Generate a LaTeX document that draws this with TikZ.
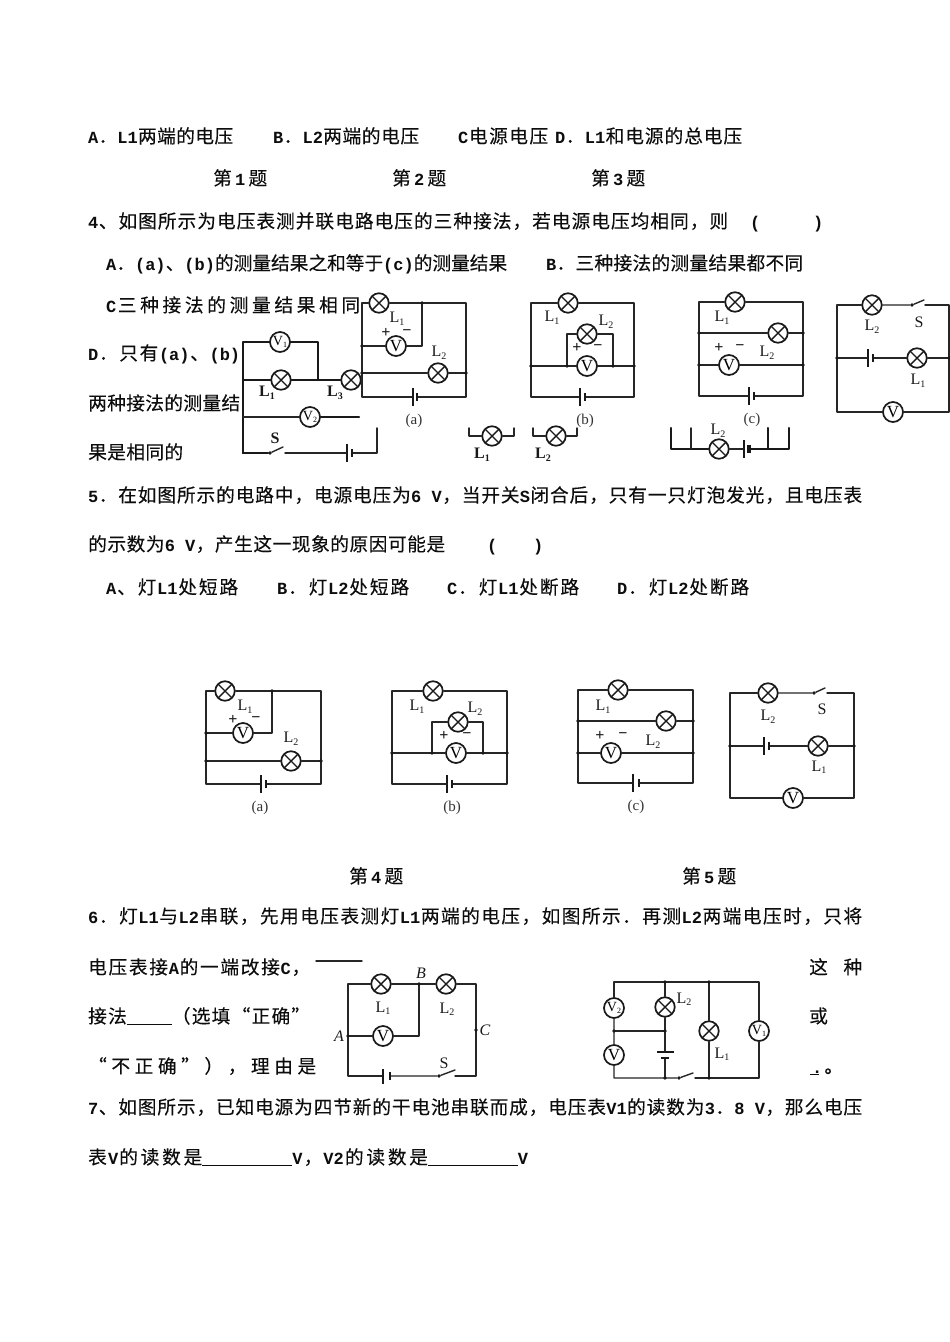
\documentclass[tikz,border=0pt]{standalone}
\usepackage{fontspec}
\setmainfont{Liberation Mono}
\newfontfamily\latinf{Liberation Mono Bold}
\newfontfamily\cjkf{Noto Sans CJK SC}[Scale=1.1,FakeBold=0.15]
\newfontfamily\serf{Liberation Serif}
\newXeTeXintercharclass\cjkcls
\newcount\cc
\cc="4E00 \loop \XeTeXcharclass\cc=\cjkcls \advance\cc 1 \ifnum\cc<"A000 \repeat
\cc="3000 \loop \XeTeXcharclass\cc=\cjkcls \advance\cc 1 \ifnum\cc<"3040 \repeat
\cc="FF00 \loop \XeTeXcharclass\cc=\cjkcls \advance\cc 1 \ifnum\cc<"FFF0 \repeat
\XeTeXcharclass"201C=\cjkcls
\XeTeXcharclass"201D=\cjkcls
\XeTeXinterchartokenstate=1
\XeTeXinterchartoks 0 \cjkcls={\hskip 0pt plus .4fil minus .4fil\relax\cjkf}
\XeTeXinterchartoks 4095 \cjkcls={\cjkf}
\XeTeXinterchartoks \cjkcls 0 ={\latinf\hskip 0pt plus .4fil minus .4fil\relax}
\XeTeXinterchartoks \cjkcls 4095 ={\latinf}
\XeTeXinterchartoks \cjkcls \cjkcls={\hskip 0pt plus 1fil minus 1fil\relax}
\newcommand\tl[5]{\node[txt] (#1) at (#2,#3) {\hbox to #4pt{#5}};}
\newcommand\Ls[1]{L\raisebox{-2.5pt}{\fontsize{10}{10}\selectfont #1}}
\newcommand\Vs[1]{V\raisebox{-2pt}{\fontsize{8}{8}\selectfont #1}}
\tikzset{
  x=1pt,y=-1pt,
  txt/.style={anchor=base west,inner sep=0pt,font=\latinf\fontsize{17}{19}\selectfont,text=black!95},
  wire/.style={line width=1.4pt,draw=black!85,line cap=round,line join=round},
  heavy/.style={line width=2.1pt,draw=black!90,line cap=round,line join=round},
  lamp/.style={circle,draw=black!90,line width=1.7pt,fill=white,minimum size=19.5pt,inner sep=0pt,
    path picture={\draw[line width=1.4pt,black!90] (path picture bounding box.north west) -- (path picture bounding box.south east)
      (path picture bounding box.north east) -- (path picture bounding box.south west);}},
  meter/.style={circle,draw=black!90,line width=1.7pt,fill=white,minimum size=20pt,inner sep=0pt,font=\serf\fontsize{17}{17}\selectfont},
  meters/.style={meter,font=\serf\fontsize{14}{14}\selectfont},
  lbl/.style={inner sep=0pt,font=\serf\fontsize{16}{16}\selectfont,text=black!90},
  blbl/.style={inner sep=0pt,font=\serf\bfseries\fontsize{16}{16}\selectfont,text=black!90},
  ilbl/.style={inner sep=0pt,font=\serf\itshape\fontsize{16}{16}\selectfont,text=black!90},
  figcap/.style={inner sep=0pt,font=\serf\fontsize{15}{15}\selectfont,text=black!80},
  sgn/.style={inner sep=0pt,font=\serf\bfseries\fontsize{16}{16}\selectfont,text=black!90},
  plate/.style={rectangle,fill=black!90,inner sep=0pt,minimum width=1.5pt,minimum height=18pt},
  stub/.style={rectangle,fill=black!90,inner sep=0pt,minimum width=2.4pt,minimum height=8pt},
  dot/.style={circle,fill=black!90,inner sep=0pt,minimum size=3.6pt},
}
\begin{document}
\begin{tikzpicture}
\useasboundingbox (0,0) rectangle (950,1342);
\fill[white] (0,0) rectangle (950,1342);

% ---------- text ----------
\tl{t1}{88}{143}{145}{A．L1两端的电压}
\tl{t2}{273}{143}{146}{B．L2两端的电压}
\tl{t3}{458}{143}{90}{C电源电压}
\tl{t4}{555}{143}{187}{D．L1和电源的总电压}
\tl{t5}{213}{185}{54}{第\hfil 1\hfil 题}
\tl{t6}{392}{185}{54}{第\hfil 2\hfil 题}
\tl{t7}{591}{185}{54}{第\hfil 3\hfil 题}
\tl{t8}{88}{228}{640}{4、如图所示为电压表测并联电路电压的三种接法，若电源电压均相同，则}
\tl{t9}{750}{228}{10}{(}
\tl{t10}{813}{228}{10}{)}
\tl{t11}{106}{270}{401}{A．(a)、(b)的测量结果之和等于(c)的测量结果}
\tl{t12}{546}{270}{257}{B．三种接法的测量结果都不同}
\tl{t13}{106}{312}{254}{C三种接法的测量结果相同}
\tl{t14}{88}{360}{152}{D．只有(a)、(b)}
\tl{t15}{88}{410}{152}{两种接法的测量结}
\tl{t16}{88}{459}{95}{果是相同的}
\tl{t17}{88}{502}{774}{5．在如图所示的电路中，电源电压为6 V，当开关S闭合后，只有一只灯泡发光，且电压表}
\tl{t18}{88}{551}{357}{的示数为6 V，产生这一现象的原因可能是}
\tl{t19}{487}{551}{10}{(}
\tl{t20}{533}{551}{10}{)}
\tl{t21}{106}{594}{132}{A、灯L1处短路}
\tl{t22}{277}{594}{132}{B．灯L2处短路}
\tl{t23}{447}{594}{132}{C．灯L1处断路}
\tl{t24}{617}{594}{132}{D．灯L2处断路}
\tl{t25}{349}{883}{54}{第\hfil 4\hfil 题}
\tl{t26}{682}{883}{54}{第\hfil 5\hfil 题}
\tl{t27}{88}{923}{774}{6．灯L1与L2串联，先用电压表测灯L1两端的电压，如图所示．再测L2两端电压时，只将}
\tl{t28}{88}{974}{222}{电压表接A的一端改接C，}
\tl{t29}{809}{974}{53}{这\hfil 种}
\tl{t30}{88}{1023}{222}{接法\rule[-2pt]{45pt}{1pt}（选填“正确”}
\tl{t31}{809}{1023}{19}{或}
\tl{t32}{88}{1073}{228}{“不正确”），理由是}
\tl{t33}{810}{1073}{26}{\rule[-2pt]{9pt}{1pt}\kern-7pt.\kern2pt 。\hfil}
\tl{t34}{88}{1114}{774}{7、如图所示，已知电源为四节新的干电池串联而成，电压表V1的读数为3．8 V，那么电压}
\tl{t35}{88}{1164}{440}{表V的读数是\rule[-2pt]{90pt}{1pt}V，V2的读数是\rule[-2pt]{90pt}{1pt}V}
\coordinate (ulA) at (316,961);
\coordinate (ulB) at (362,961);
\draw[wire] (ulA) -- (ulB);

% ---------- series circuit, top left ----------
\coordinate (pa) at (243,342);
\coordinate (pb) at (318,342);
\coordinate (pc) at (318,380);
\coordinate (pd) at (243,380);
\coordinate (pe) at (243,417);
\coordinate (pf) at (359,417);
\coordinate (pg) at (243,453);
\coordinate (ph) at (377,453);
\coordinate (pi) at (377,428);
\coordinate (pj) at (283,447);
\coordinate (pk) at (285,453);
\node[meters] (pV1) at (280,342) {\Vs{1}};
\node[lamp] (pL1) at (281,380) {};
\node[lamp] (pL3) at (351,380) {};
\node[meters] (pV2) at (310,417) {\Vs{2}};
\node[dot] (pS) at (270,453) {};
\node[plate] (pB1) at (347,453) {};
\node[stub] (pB2) at (352,453) {};
\draw[heavy] (pg) -- (pa) -- (pV1);
\draw[heavy] (pV1) -- (pb) -- (pc);
\draw[heavy] (pd) -- (pL1);
\draw[heavy] (pL1) -- (pc) -- (pL3);
\draw[wire] (pe) -- (pV2);
\draw[heavy] (pV2) -- (pf);
\draw[heavy] (pg) -- (pS);
\draw[wire] (pS) -- (pj);
\draw[wire] (pk) -- (pB1);
\draw[wire] (pB2) -- (ph) -- (pi);
\node[blbl] (pl1) at (267,393) {\Ls{1}};
\node[blbl] (pl3) at (335,393) {\Ls{3}};
\node[blbl] (pls) at (275,438) {S};

% ---------- (a) top ----------
\coordinate (aTL) at (362,303);
\coordinate (aTR) at (466,303);
\coordinate (aBR) at (466,397);
\coordinate (aBL) at (362,397);
\coordinate (aJ) at (422,303);
\coordinate (aK) at (422,346);
\coordinate (aM) at (362,346);
\coordinate (aN) at (362,373);
\coordinate (aP) at (466,373);
\node[lamp] (aL1) at (379,303) {};
\node[meter] (aV) at (396,346) {V};
\node[lamp] (aL2) at (438,373) {};
\node[plate] (aB1) at (413,397) {};
\node[stub] (aB2) at (417,397) {};
\draw[wire] (aL1) -- (aTL) -- (aBL) -- (aB1);
\draw[wire] (aL1) -- (aTR) -- (aBR) -- (aB2);
\draw[wire] (aJ) -- (aK) -- (aV) -- (aM);
\draw[wire] (aN) -- (aL2) -- (aP);
\node[dot] (aD1) at (aJ) {};
\node[dot] (aD2) at (aM) {};
\node[dot] (aD3) at (aN) {};
\node[dot] (aD4) at (aP) {};
\node[lbl] (al1) at (397,319) {\Ls{1}};
\node[sgn] (apl) at (386,333) {+};
\node[sgn] (amn) at (407,333) {−};
\node[lbl] (al2) at (439,353) {\Ls{2}};
\node[figcap] (acap) at (414,421) {(a)};

% ---------- (b) top ----------
\coordinate (bTL) at (531,303);
\coordinate (bTR) at (634,303);
\coordinate (bBR) at (634,397);
\coordinate (bBL) at (531,397);
\coordinate (bM) at (531,366);
\coordinate (bN) at (634,366);
\coordinate (bJ) at (567,366);
\coordinate (bK) at (613,366);
\coordinate (bU) at (567,334);
\coordinate (bW) at (613,334);
\node[lamp] (bL1) at (568,303) {};
\node[lamp] (bL2) at (587,334) {};
\node[meter] (bV) at (587,366) {V};
\node[plate] (bB1) at (580,397) {};
\node[stub] (bB2) at (585,397) {};
\draw[wire] (bL1) -- (bTL) -- (bBL) -- (bB1);
\draw[wire] (bL1) -- (bTR) -- (bBR) -- (bB2);
\draw[wire] (bM) -- (bV) -- (bN);
\draw[wire] (bJ) -- (bU) -- (bL2) -- (bW) -- (bK);
\node[dot] (bD1) at (bM) {};
\node[dot] (bD2) at (bN) {};
\node[dot] (bD3) at (bJ) {};
\node[dot] (bD4) at (bK) {};
\node[lbl] (bl1) at (552,318) {\Ls{1}};
\node[lbl] (bl2) at (606,322) {\Ls{2}};
\node[sgn] (bpl) at (577,348) {+};
\node[sgn] (bmn) at (598,348) {−};
\node[figcap] (bcap) at (585,421) {(b)};

% ---------- (c) top ----------
\coordinate (cTL) at (699,302);
\coordinate (cTR) at (803,302);
\coordinate (cBR) at (803,396);
\coordinate (cBL) at (699,396);
\coordinate (cA) at (699,333);
\coordinate (cB) at (803,333);
\coordinate (cC) at (699,365);
\coordinate (cD) at (803,365);
\node[lamp] (cL1) at (735,302) {};
\node[lamp] (cL2) at (778,333) {};
\node[meter] (cV) at (729,365) {V};
\node[plate] (cB1) at (749,396) {};
\node[stub] (cB2) at (754,396) {};
\draw[wire] (cL1) -- (cTL) -- (cBL) -- (cB1);
\draw[wire] (cL1) -- (cTR) -- (cBR) -- (cB2);
\draw[wire] (cA) -- (cL2) -- (cB);
\draw[wire] (cC) -- (cV) -- (cD);
\node[dot] (cD1) at (cA) {};
\node[dot] (cD2) at (cB) {};
\node[dot] (cD3) at (cC) {};
\node[dot] (cD4) at (cD) {};
\node[lbl] (cl1) at (722,318) {\Ls{1}};
\node[sgn] (cpl) at (719,348) {+};
\node[sgn] (cmn) at (740,348) {−};
\node[lbl] (cl2) at (767,353) {\Ls{2}};
\node[figcap] (ccap) at (752,420) {(c)};

% ---------- top right circuit ----------
\coordinate (dTL) at (837,305);
\coordinate (dTR) at (949,305);
\coordinate (dBR) at (949,412);
\coordinate (dBL) at (837,412);
\coordinate (dM) at (837,358);
\coordinate (dN) at (949,358);
\coordinate (dJ) at (924,300);
\coordinate (dK) at (925,305);
\node[lamp] (dL2) at (872,305) {};
\node[dot] (dS) at (912,305) {};
\node[lamp] (dL1) at (917,358) {};
\node[meter] (dV) at (893,412) {V};
\node[plate] (dB1) at (868,358) {};
\node[stub] (dB2) at (873,358) {};
\draw[wire] (dL2) -- (dTL) -- (dBL) -- (dV) -- (dBR) -- (dTR) -- (dK);
\draw[wire] (dL2) -- (dS) -- (dJ);
\draw[wire] (dM) -- (dB1);
\draw[wire] (dB2) -- (dL1) -- (dN);
\node[dot] (dD1) at (dM) {};
\node[dot] (dD2) at (dN) {};
\node[lbl] (dl2) at (872,327) {\Ls{2}};
\node[lbl] (dls) at (919,322) {S};
\node[lbl] (dl1) at (918,381) {\Ls{1}};

% ---------- fragments between the top figures ----------
\coordinate (f1a) at (469,428);
\coordinate (f1b) at (469,436);
\coordinate (f1c) at (514,436);
\coordinate (f1d) at (514,428);
\node[lamp] (f1L) at (492,436) {};
\draw[wire] (f1a) -- (f1b) -- (f1L) -- (f1c) -- (f1d);
\node[blbl] (f1l) at (482,455) {\Ls{1}};
\coordinate (f2a) at (533,428);
\coordinate (f2b) at (533,436);
\coordinate (f2c) at (577,436);
\coordinate (f2d) at (577,428);
\node[lamp] (f2L) at (556,436) {};
\draw[wire] (f2a) -- (f2b) -- (f2L) -- (f2c) -- (f2d);
\node[blbl] (f2l) at (543,455) {\Ls{2}};
\coordinate (f3a) at (671,428);
\coordinate (f3b) at (671,449);
\coordinate (f3c) at (691,428);
\coordinate (f3d) at (691,449);
\coordinate (f3e) at (768,428);
\coordinate (f3f) at (768,449);
\coordinate (f3g) at (789,449);
\coordinate (f3h) at (789,428);
\node[lamp] (f3L) at (719,449) {};
\node[plate] (f3B1) at (744,449) {};
\node[stub,minimum width=3.5pt] (f3B2) at (749,449) {};
\draw[heavy] (f3a) -- (f3b) -- (f3L);
\draw[wire] (f3c) -- (f3d);
\draw[wire] (f3L) -- (f3B1);
\draw[heavy] (f3B2) -- (f3g) -- (f3h);
\draw[heavy] (f3e) -- (f3f);
\node[lbl] (f3l) at (718,431) {\Ls{2}};

% ---------- lower (a) ----------
\coordinate (gTL) at (206,691);
\coordinate (gTR) at (321,691);
\coordinate (gBR) at (321,784);
\coordinate (gBL) at (206,784);
\coordinate (gJ) at (272,691);
\coordinate (gK) at (272,733);
\coordinate (gM) at (206,733);
\coordinate (gN) at (206,761);
\coordinate (gP) at (321,761);
\node[lamp] (gL1) at (225,691) {};
\node[meter] (gV) at (243,733) {V};
\node[lamp] (gL2) at (291,761) {};
\node[plate] (gB1) at (261,784) {};
\node[stub] (gB2) at (266,784) {};
\draw[wire] (gL1) -- (gTL) -- (gBL) -- (gB1);
\draw[wire] (gL1) -- (gTR) -- (gBR) -- (gB2);
\draw[wire] (gJ) -- (gK) -- (gV) -- (gM);
\draw[wire] (gN) -- (gL2) -- (gP);
\node[dot] (gD1) at (gJ) {};
\node[dot] (gD2) at (gM) {};
\node[dot] (gD3) at (gN) {};
\node[dot] (gD4) at (gP) {};
\node[lbl] (gl1) at (245,707) {\Ls{1}};
\node[sgn] (gpl) at (233,720) {+};
\node[sgn] (gmn) at (256,720) {−};
\node[lbl] (gl2) at (291,739) {\Ls{2}};
\node[figcap] (gcap) at (260,808) {(a)};

% ---------- lower (b) ----------
\coordinate (hTL) at (392,691);
\coordinate (hTR) at (507,691);
\coordinate (hBR) at (507,784);
\coordinate (hBL) at (392,784);
\coordinate (hM) at (392,753);
\coordinate (hN) at (507,753);
\coordinate (hJ) at (432,753);
\coordinate (hK) at (483,753);
\coordinate (hU) at (432,722);
\coordinate (hW) at (483,722);
\node[lamp] (hL1) at (433,691) {};
\node[lamp] (hL2) at (458,722) {};
\node[meter] (hV) at (456,753) {V};
\node[plate] (hB1) at (447,784) {};
\node[stub] (hB2) at (452,784) {};
\draw[wire] (hL1) -- (hTL) -- (hBL) -- (hB1);
\draw[wire] (hL1) -- (hTR) -- (hBR) -- (hB2);
\draw[wire] (hM) -- (hV) -- (hN);
\draw[wire] (hJ) -- (hU) -- (hL2) -- (hW) -- (hK);
\node[dot] (hD1) at (hM) {};
\node[dot] (hD2) at (hN) {};
\node[dot] (hD3) at (hJ) {};
\node[dot] (hD4) at (hK) {};
\node[lbl] (hl1) at (417,707) {\Ls{1}};
\node[lbl] (hl2) at (475,709) {\Ls{2}};
\node[sgn] (hpl) at (444,736) {+};
\node[sgn] (hmn) at (467,736) {−};
\node[figcap] (hcap) at (452,808) {(b)};

% ---------- lower (c) ----------
\coordinate (iTL) at (578,690);
\coordinate (iTR) at (693,690);
\coordinate (iBR) at (693,783);
\coordinate (iBL) at (578,783);
\coordinate (iA) at (578,721);
\coordinate (iB) at (693,721);
\coordinate (iC) at (578,753);
\coordinate (iD) at (693,753);
\node[lamp] (iL1) at (618,690) {};
\node[lamp] (iL2) at (666,721) {};
\node[meter] (iV) at (611,753) {V};
\node[plate] (iB1) at (633,783) {};
\node[stub] (iB2) at (639,783) {};
\draw[wire] (iL1) -- (iTL) -- (iBL) -- (iB1);
\draw[wire] (iL1) -- (iTR) -- (iBR) -- (iB2);
\draw[wire] (iA) -- (iL2) -- (iB);
\draw[wire] (iC) -- (iV) -- (iD);
\node[dot] (iD1) at (iA) {};
\node[dot] (iD2) at (iB) {};
\node[dot] (iD3) at (iC) {};
\node[dot] (iD4) at (iD) {};
\node[lbl] (il1) at (603,707) {\Ls{1}};
\node[sgn] (ipl) at (600,736) {+};
\node[sgn] (imn) at (623,736) {−};
\node[lbl] (il2) at (653,742) {\Ls{2}};
\node[figcap] (icap) at (636,807) {(c)};

% ---------- lower right circuit ----------
\coordinate (jTL) at (730,693);
\coordinate (jTR) at (854,693);
\coordinate (jBR) at (854,798);
\coordinate (jBL) at (730,798);
\coordinate (jM) at (730,746);
\coordinate (jN) at (854,746);
\coordinate (jJ) at (825,688);
\coordinate (jK) at (827,693);
\node[lamp] (jL2) at (768,693) {};
\node[dot] (jS) at (814,693) {};
\node[lamp] (jL1) at (818,746) {};
\node[meter] (jV) at (793,798) {V};
\node[plate] (jB1) at (764,746) {};
\node[stub] (jB2) at (769,746) {};
\draw[wire] (jL2) -- (jTL) -- (jBL) -- (jV) -- (jBR) -- (jTR) -- (jK);
\draw[wire] (jL2) -- (jS) -- (jJ);
\draw[wire] (jM) -- (jB1);
\draw[wire] (jB2) -- (jL1) -- (jN);
\node[dot] (jD1) at (jM) {};
\node[dot] (jD2) at (jN) {};
\node[lbl] (jl2) at (768,717) {\Ls{2}};
\node[lbl] (jls) at (822,709) {S};
\node[lbl] (jl1) at (819,767) {\Ls{1}};

% ---------- question 6 circuit ----------
\coordinate (kTL) at (348,984);
\coordinate (kTR) at (476,984);
\coordinate (kBR) at (476,1076);
\coordinate (kBL) at (348,1076);
\coordinate (kJ) at (419,984);
\coordinate (kK) at (419,1036);
\coordinate (kA) at (348,1036);
\coordinate (kC) at (476,1030);
\coordinate (kE) at (455,1070);
\coordinate (kF) at (455,1076);
\node[lamp] (kL1) at (381,984) {};
\node[lamp] (kL2) at (446,984) {};
\node[meter] (kV) at (383,1036) {V};
\node[plate,minimum height=15pt] (kB1) at (383,1076) {};
\node[stub] (kB2) at (390,1076) {};
\node[dot] (kS) at (439,1076) {};
\draw[wire] (kL1) -- (kTL) -- (kBL) -- (kB1);
\draw[wire] (kL1) -- (kL2) -- (kTR) -- (kBR) -- (kF);
\draw[wire] (kB2) -- (kS) -- (kE);
\draw[wire] (kJ) -- (kK) -- (kV) -- (kA);
\node[dot] (kD1) at (kJ) {};
\node[dot] (kD2) at (kA) {};
\node[dot] (kD3) at (kC) {};
\node[ilbl] (klb) at (421,973) {B};
\node[ilbl] (kla) at (339,1036) {A};
\node[ilbl] (klc) at (485,1030) {C};
\node[lbl] (kl1) at (383,1008) {\Ls{1}};
\node[lbl] (kl2) at (447,1009) {\Ls{2}};
\node[lbl] (kls) at (444,1063) {S};

% ---------- question 7 circuit ----------
\coordinate (mTL) at (614,982);
\coordinate (mTR) at (759,982);
\coordinate (mBR) at (759,1078);
\coordinate (mBL) at (614,1078);
\coordinate (mA) at (665,982);
\coordinate (mB) at (709,982);
\coordinate (mC) at (614,1031);
\coordinate (mD) at (665,1031);
\coordinate (mE) at (665,1078);
\coordinate (mF) at (709,1078);
\coordinate (mG) at (693,1073);
\coordinate (mH) at (695,1078);
\node[meters] (mV2) at (614,1008) {\Vs{2}};
\node[meter] (mV) at (614,1055) {V};
\node[lamp] (mL2) at (665,1007) {};
\node[lamp] (mL1) at (709,1031) {};
\node[meters] (mV1) at (759,1031) {\Vs{1}};
\node[plate,minimum width=17pt,minimum height=1.5pt] (mB1) at (665,1052) {};
\node[stub,minimum width=8pt,minimum height=2.4pt] (mB2) at (665,1058) {};
\node[dot] (mS) at (679,1078) {};
\draw[wire] (mV2) -- (mTL) -- (mTR) -- (mV1) -- (mBR) -- (mH);
\draw[wire] (mV2) -- (mC) -- (mV) -- (mBL) -- (mE) -- (mS) -- (mG);
\draw[wire] (mC) -- (mD);
\draw[wire] (mA) -- (mL2) -- (mD) -- (mB1);
\draw[wire] (mB2) -- (mE);
\draw[wire] (mB) -- (mL1) -- (mF);
\node[dot] (mD1) at (mA) {};
\node[dot] (mD2) at (mB) {};
\node[dot] (mD3) at (mC) {};
\node[dot] (mD4) at (mD) {};
\node[dot] (mD5) at (mE) {};
\node[dot] (mD6) at (mF) {};
\node[lbl] (ml2) at (684,999) {\Ls{2}};
\node[lbl] (ml1) at (722,1054) {\Ls{1}};
\end{tikzpicture}
\end{document}
